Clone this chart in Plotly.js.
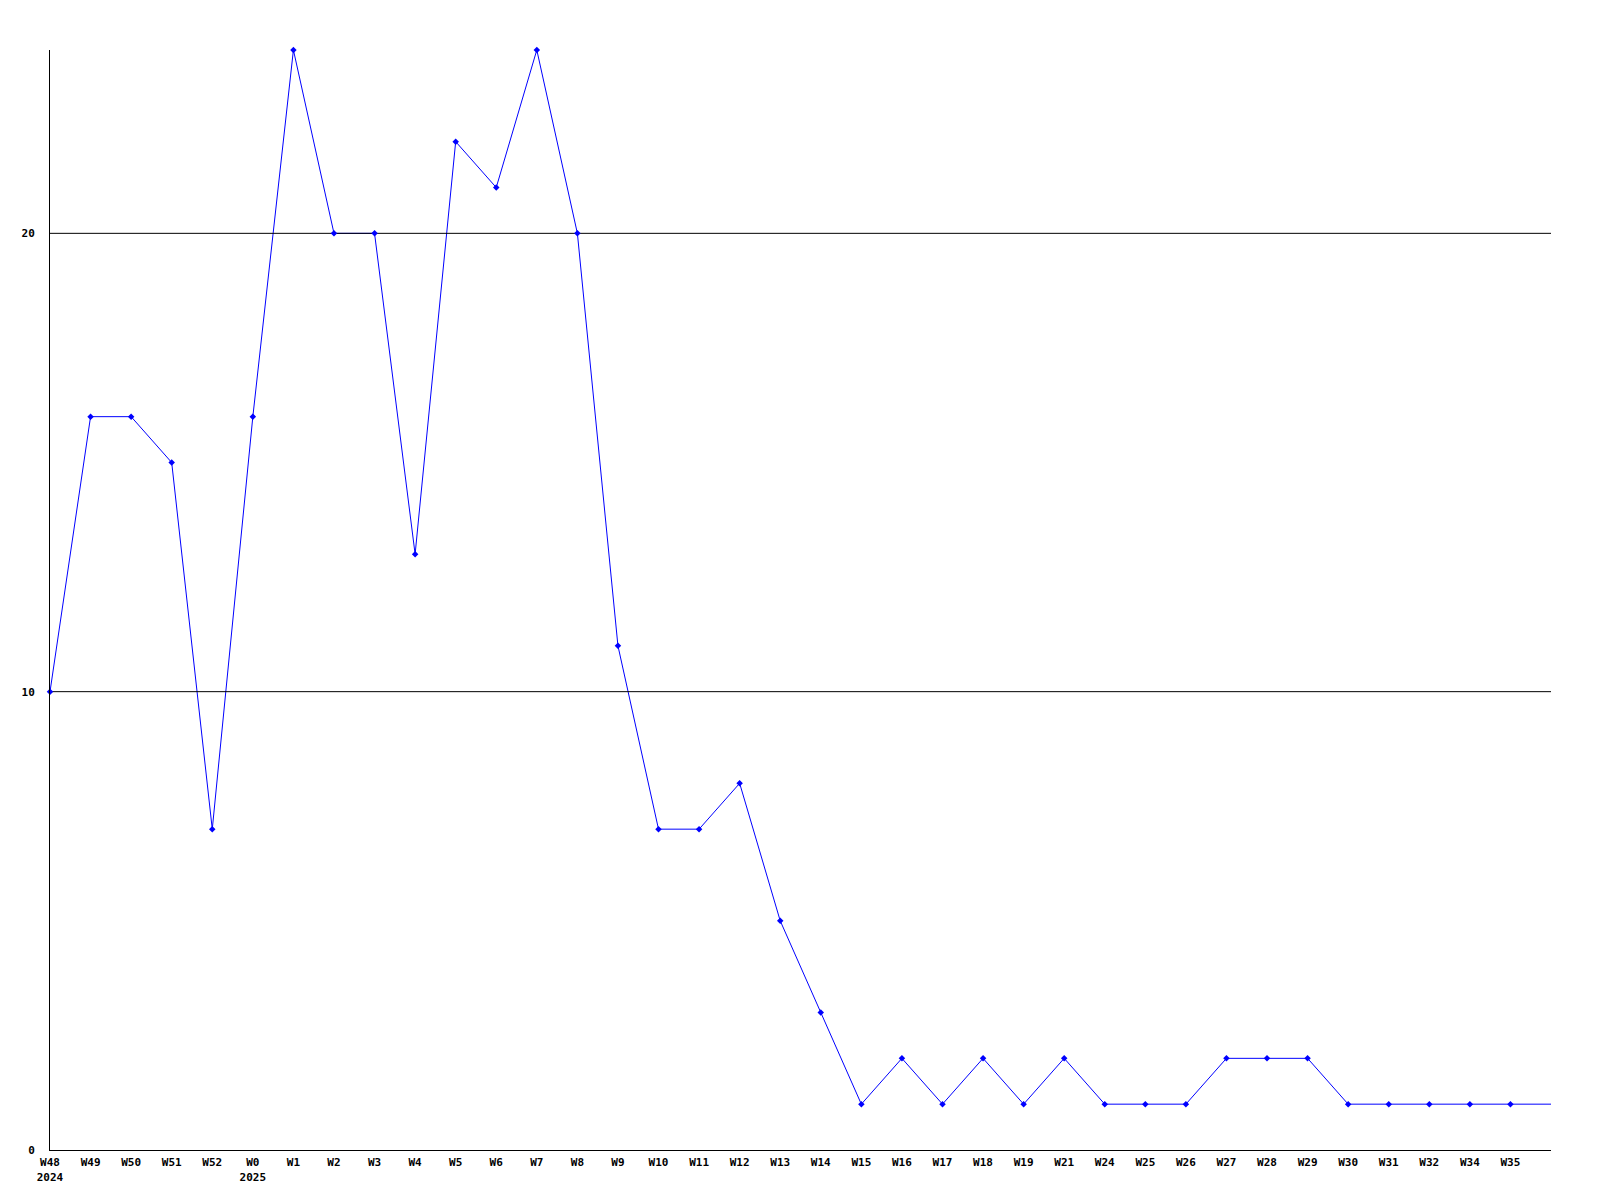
<!DOCTYPE html>
<html>
<head>
<meta charset="utf-8">
<script src="https://cdn.plot.ly/plotly-3.0.1.min.js"></script>
<style>html,body{margin:0;padding:0;background:#fff;}#chart{width:1600px;height:1200px;}</style>
</head>
<body>
<div id="chart"></div>
<script>
const weeks = ["W48<br>2024","W49","W50","W51","W52","W0<br>2025","W1","W2","W3","W4","W5","W6","W7","W8","W9","W10","W11","W12","W13","W14","W15","W16","W17","W18","W19","W21","W24","W25","W26","W27","W28","W29","W30","W31","W32","W34","W35",""];
const counts = [10,16,16,15,7,16,24,20,20,13,22,21,24,20,11,7,7,8,5,3,1,2,1,2,1,2,1,1,1,2,2,2,1,1,1,1,1,1];
const gridValues = [10,20];
const yTicks = [0,10,20];

const xIdx = weeks.map((w,i)=>i);
const last = weeks.length-1;

const lineTrace = {
  x: xIdx, y: counts, type: 'scatter', mode: 'lines',
  line: {color: '#0000ff', width: 1}, hoverinfo: 'skip'
};
const gridTraces = gridValues.map(v => ({
  x: [0, last], y: [v, v], type: 'scatter', mode: 'lines',
  line: {color: '#000', width: 1}, hoverinfo: 'skip'
}));
const markerTrace = {
  x: xIdx.slice(0, last), y: counts.slice(0, last), type: 'scatter', mode: 'markers',
  marker: {color: '#0000ff', size: 5, symbol: 'diamond'},
  cliponaxis: false, hoverinfo: 'skip'
};

const font = {family: '"DejaVu Sans Mono", "Liberation Mono", monospace', size: 11, color: '#000', weight: 'bold'};

const layout = {
  width: 1600, height: 1200,
  margin: {l: 50, r: 49, t: 50, b: 50, pad: 0},
  paper_bgcolor: '#fff', plot_bgcolor: '#fff',
  showlegend: false,
  xaxis: {
    range: [0, last], tickmode: 'array',
    tickvals: xIdx.slice(0, last), ticktext: weeks.slice(0, last),
    showgrid: false, zeroline: false, showline: true, linecolor: '#000', linewidth: 1,
    ticks: '', ticklabelstandoff: 2, tickfont: font, tickangle: 0, fixedrange: true
  },
  yaxis: {
    range: [0, 24], tickmode: 'array', tickvals: yTicks, ticktext: yTicks.map(String),
    showgrid: false, zeroline: false, showline: true, linecolor: '#000', linewidth: 1,
    ticks: '', ticklabelstandoff: 12, tickfont: font, fixedrange: true
  }
};

Plotly.newPlot('chart', [lineTrace, ...gridTraces, markerTrace], layout, {staticPlot: true, displayModeBar: false});
</script>
</body>
</html>
